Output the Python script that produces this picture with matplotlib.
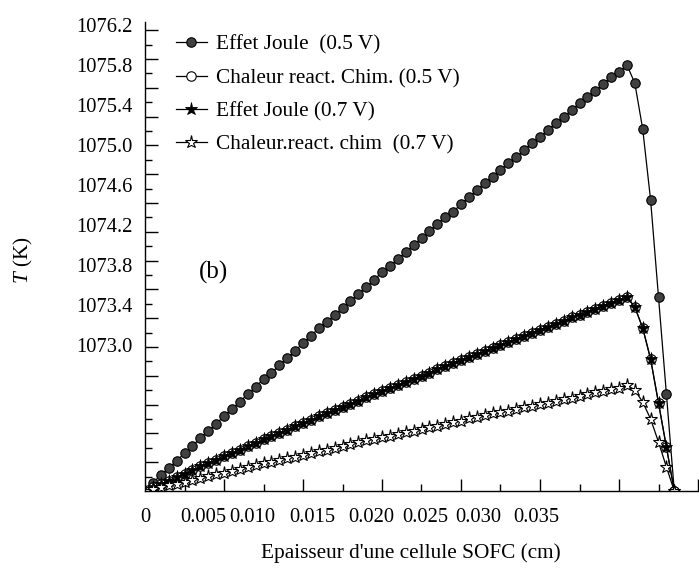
import numpy as np
import matplotlib
matplotlib.use("Agg")
import matplotlib.pyplot as plt
from matplotlib.ticker import FixedLocator, NullFormatter

plt.rcParams["font.family"] = ["Liberation Serif", "DejaVu Serif"]
plt.rcParams["mathtext.fontset"] = "custom"
plt.rcParams["mathtext.it"] = "Liberation Serif:italic"
plt.rcParams["mathtext.rm"] = "Liberation Serif"

# Epaisseur (cm) : maillage de 68 noeuds, pas 0.0005 cm
epaisseur = np.round(np.arange(68) * 0.0005, 4)

# Temperature (K) - Effet Joule a 0.5 V
joule_05 = [
    1071.54, 1071.62, 1071.70, 1071.77, 1071.84, 1071.92, 1071.99, 1072.07,
    1072.14, 1072.21, 1072.29, 1072.36, 1072.43, 1072.51, 1072.58, 1072.66,
    1072.72, 1072.80, 1072.87, 1072.94, 1073.02, 1073.09, 1073.17, 1073.23,
    1073.30, 1073.37, 1073.44, 1073.51, 1073.58, 1073.65, 1073.73, 1073.79,
    1073.86, 1073.93, 1074.00, 1074.07, 1074.14, 1074.21, 1074.28, 1074.33,
    1074.41, 1074.48, 1074.55, 1074.62, 1074.68, 1074.75, 1074.82, 1074.88,
    1074.95, 1075.02, 1075.08, 1075.15, 1075.22, 1075.28, 1075.35, 1075.42,
    1075.48, 1075.54, 1075.61, 1075.68, 1075.73, 1075.80, 1075.62, 1075.16,
    1074.45, 1073.48, 1072.51, 1071.54,
]

# Chaleur de reaction chimique a 0.5 V
chim_05 = [
    1071.540, 1071.575, 1071.610, 1071.645, 1071.680, 1071.715, 1071.750, 1071.785,
    1071.820, 1071.855, 1071.890, 1071.920, 1071.955, 1071.990, 1072.020, 1072.055,
    1072.090, 1072.120, 1072.155, 1072.190, 1072.220, 1072.250, 1072.285, 1072.320,
    1072.350, 1072.380, 1072.415, 1072.445, 1072.480, 1072.510, 1072.540, 1072.570,
    1072.600, 1072.635, 1072.665, 1072.695, 1072.725, 1072.760, 1072.790, 1072.820,
    1072.850, 1072.880, 1072.910, 1072.940, 1072.970, 1073.000, 1073.030, 1073.060,
    1073.095, 1073.125, 1073.155, 1073.185, 1073.215, 1073.245, 1073.275, 1073.305,
    1073.335, 1073.365, 1073.395, 1073.425, 1073.455, 1073.480, 1073.380, 1073.170,
    1072.860, 1072.420, 1071.980, 1071.540,
]

# Effet Joule a 0.7 V (confondu avec la courbe precedente)
joule_07 = list(chim_05)

# Chaleur de reaction chimique a 0.7 V
chim_07 = [
    1071.540, 1071.560, 1071.580, 1071.600, 1071.615, 1071.635, 1071.655, 1071.670,
    1071.690, 1071.710, 1071.725, 1071.745, 1071.760, 1071.780, 1071.800, 1071.815,
    1071.835, 1071.850, 1071.870, 1071.885, 1071.905, 1071.920, 1071.940, 1071.955,
    1071.975, 1071.990, 1072.010, 1072.025, 1072.045, 1072.060, 1072.080, 1072.095,
    1072.110, 1072.130, 1072.145, 1072.165, 1072.180, 1072.195, 1072.215, 1072.230,
    1072.245, 1072.265, 1072.280, 1072.295, 1072.315, 1072.330, 1072.345, 1072.360,
    1072.380, 1072.395, 1072.410, 1072.425, 1072.445, 1072.460, 1072.475, 1072.490,
    1072.510, 1072.525, 1072.540, 1072.555, 1072.575, 1072.600, 1072.550, 1072.430,
    1072.260, 1072.030, 1071.780, 1071.540,
]

etiquettes_y = ["1073.0", "1073.4", "1073.8", "1074.2", "1074.6",
                "1075.0", "1075.4", "1075.8", "1076.2"]
valeurs_y = [1073.0, 1073.4, 1073.8, 1074.2, 1074.6, 1075.0, 1075.4, 1075.8, 1076.2]
etiquettes_x = ["0", "0.005", "0.010", "0.015", "0.020", "0.025", "0.030", "0.035"]
places_x = [0.0, 0.00367, 0.00677, 0.01057, 0.0143, 0.01772, 0.02108, 0.02475]

fig = plt.figure(figsize=(6.99, 5.71), dpi=100)
ax = fig.add_axes([145 / 699, 80 / 571, 553 / 699, 469 / 571])

ax.plot(epaisseur, joule_05, "-o", color="black", lw=0.9, ms=6.8,
        mfc="#404040", mec="black", mew=0.8, label="Effet Joule  (0.5 V)")
ax.plot(epaisseur, chim_05, "-o", color="black", lw=0.9, ms=6.8,
        mfc="white", mec="black", mew=0.8, label="Chaleur react. Chim. (0.5 V)")
ax.plot(epaisseur, joule_07, "-*", color="black", lw=0.9, ms=9.5,
        mfc="black", mec="black", mew=0.6, label="Effet Joule (0.7 V)")
ax.plot(epaisseur, chim_07, "-*", color="black", lw=0.9, ms=9.5,
        mfc="white", mec="black", mew=0.8, label="Chaleur.react. chim  (0.7 V)")

ax.set_xlim(0, 0.035)
ax.set_ylim(1071.54, 1076.23)
for s in ["top", "right"]:
    ax.spines[s].set_visible(False)
for s in ["left", "bottom"]:
    ax.spines[s].set_linewidth(1.0)

# graduations (traits seulement)
ax.xaxis.set_major_locator(FixedLocator(np.arange(1, 8) * 0.005))
ax.xaxis.set_minor_locator(FixedLocator(np.arange(0, 7) * 0.005 + 0.0025))
ax.yaxis.set_major_locator(FixedLocator(1071.54 + np.arange(1, 17) * 0.288))
ax.yaxis.set_minor_locator(FixedLocator(1071.54 + np.arange(0, 17) * 0.288 + 0.144))
ax.xaxis.set_major_formatter(NullFormatter())
ax.yaxis.set_major_formatter(NullFormatter())
ax.tick_params(which="major", direction="in", length=9, width=1.0)
ax.tick_params(which="minor", direction="in", length=5, width=1.0)

# etiquettes des axes
sx = ax.secondary_xaxis("bottom")
sx.set_xticks(places_x, etiquettes_x)
sx.tick_params(length=0, pad=12, labelsize=14.8)
sx.spines["bottom"].set_visible(False)

sy = ax.secondary_yaxis("left")
sy.set_yticks(valeurs_y, etiquettes_y)
sy.tick_params(length=0, pad=9, labelsize=14.8)
sy.spines["left"].set_visible(False)

fig.text(411 / 699, 1 - 553 / 571, "Epaisseur d'une cellule SOFC (cm)",
         ha="center", va="center", fontsize=15.3)
fig.text(23 / 699, 1 - 260 / 571, "$T$ (K)", rotation=90,
         ha="center", va="center", fontsize=15.3)
ax.text(0.098, 0.465, "(b)", transform=ax.transAxes, ha="left", va="center",
        fontsize=18)

ax.legend(loc="upper left", bbox_to_anchor=(176 / 699, 1 - 35 / 571),
          bbox_transform=fig.transFigure, frameon=False, fontsize=15.3,
          handlelength=1.45, handletextpad=0.45, labelspacing=0.63,
          borderpad=0, borderaxespad=0)

fig.savefig("out.png", dpi=100)
